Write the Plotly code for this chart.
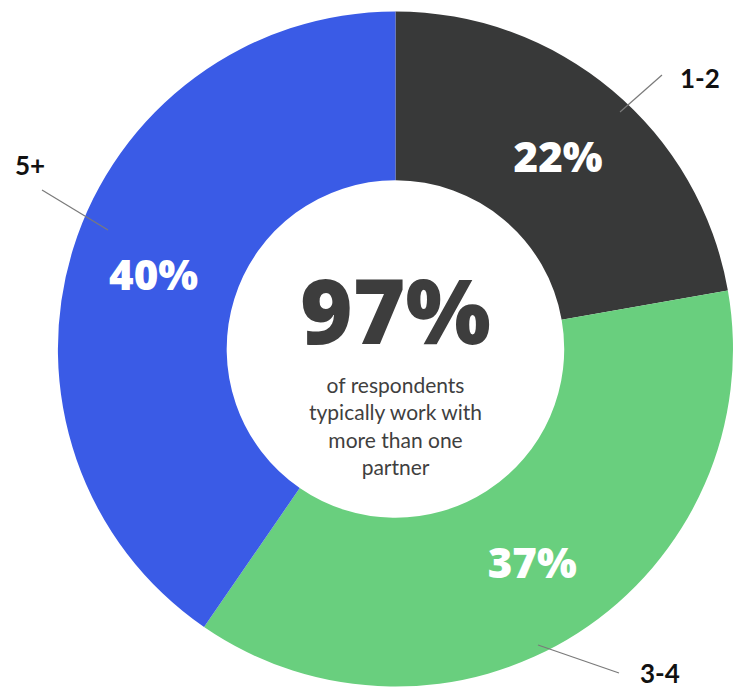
import plotly.graph_objects as go

# Number of partners respondents typically work with
groups = ["1-2", "3-4", "5+"]
shares = [22, 37, 40]
colors = ["#383939", "#69cf7e", "#3a5be6"]

headline = "97%"
headline_caption = ["of respondents", "typically work with", "more than one", "partner"]

W, H = 733, 692
dom_x = [0.079, 1.0]
dom_y = [0.0, 0.9913]

fig = go.Figure(
    go.Pie(
        labels=groups,
        values=shares,
        sort=False,
        direction="clockwise",
        rotation=0,
        hole=0.5,
        marker=dict(colors=colors, line=dict(width=0)),
        texttemplate="%{value}%",
        textposition="inside",
        insidetextorientation="horizontal",
        textfont=dict(family="Open Sans", size=42, color="white", weight=800),
        hoverinfo="label+value",
        domain=dict(x=dom_x, y=dom_y),
        showlegend=False,
    )
)

# centre of the ring in paper coordinates
cx = (dom_x[0] + dom_x[1]) / 2
cy = (dom_y[0] + dom_y[1]) / 2

annotations = [
    dict(x=cx, y=cy, xref="paper", yref="paper", text=headline, showarrow=False,
         xanchor="center", yanchor="middle", yshift=40,
         font=dict(family="Open Sans", size=90, color="#3d3d3d", weight=800)),
    dict(x=cx, y=cy, xref="paper", yref="paper",
         text="<br>".join(headline_caption), showarrow=False, yshift=-76,
         xanchor="center", yanchor="middle",
         font=dict(family="Lato", size=21, color="#3f3f3f"), align="center"),
]

# outside category labels with leader lines (pixel positions)
label_pos = {"1-2": (700, 78), "3-4": (660, 673), "5+": (30, 165)}
leader_px = {"1-2": ((620, 112), (662, 75)),
             "3-4": ((538, 645), (619, 673)),
             "5+": ((108, 230), (42, 190))}

shapes = []
for g in groups:
    lx, ly = label_pos[g]
    annotations.append(dict(x=lx / W, y=1 - ly / H, xref="paper", yref="paper",
                            text=g, showarrow=False, xanchor="center", yanchor="middle",
                            font=dict(family="Lato", size=26, color="#111111", weight=700)))
    (x0, y0), (x1, y1) = leader_px[g]
    shapes.append(dict(type="line", xref="paper", yref="paper",
                       x0=x0 / W, y0=1 - y0 / H, x1=x1 / W, y1=1 - y1 / H,
                       line=dict(color="#7a7a7a", width=1.2)))

fig.update_layout(
    width=W, height=H,
    margin=dict(l=0, r=0, t=0, b=0),
    paper_bgcolor="white",
    plot_bgcolor="white",
    annotations=annotations,
    shapes=shapes,
)

fig.write_html("out.html")
